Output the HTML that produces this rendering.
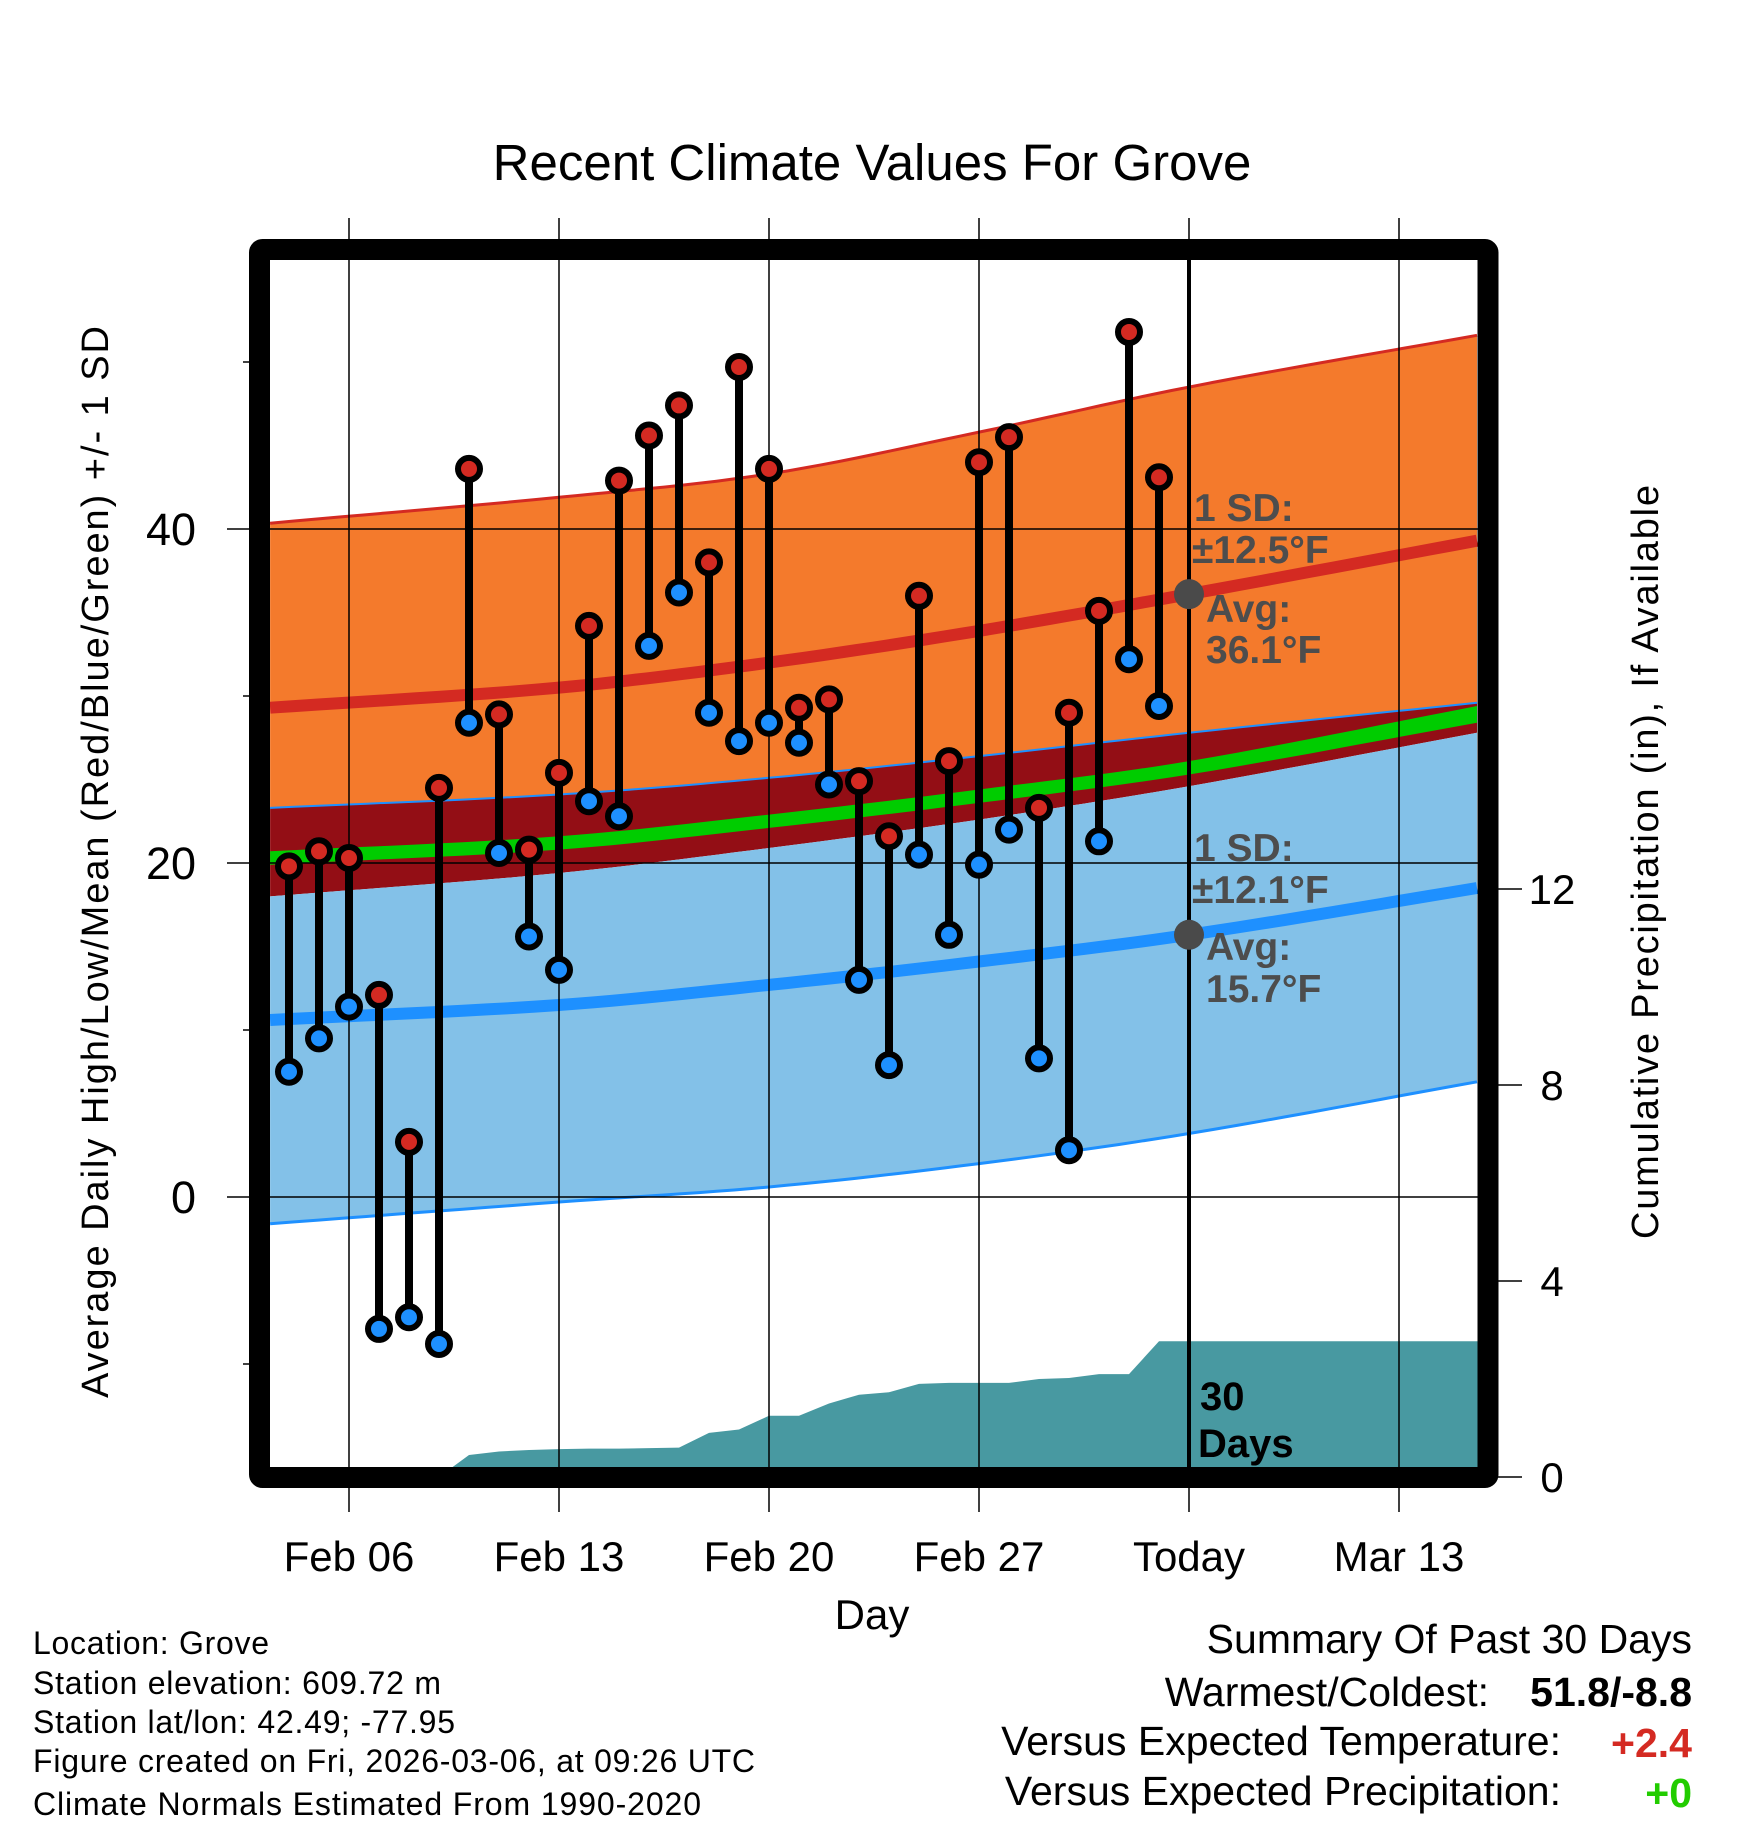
<!DOCTYPE html>
<html><head><meta charset="utf-8"><style>
html,body{margin:0;padding:0;background:#fff}
svg{display:block;font-family:"Liberation Sans",sans-serif}
</style></head><body>
<svg id="chart" width="1748" height="1828" viewBox="0 0 1748 1828" xmlns="http://www.w3.org/2000/svg">
<g id="layer"></g>
</svg>
<script>
// ---- data ----
const days = ["Feb 04","Feb 05","Feb 06","Feb 07","Feb 08","Feb 09","Feb 10","Feb 11","Feb 12","Feb 13","Feb 14","Feb 15","Feb 16","Feb 17","Feb 18","Feb 19","Feb 20","Feb 21","Feb 22","Feb 23","Feb 24","Feb 25","Feb 26","Feb 27","Feb 28","Mar 01","Mar 02","Mar 03","Mar 04","Mar 05"];
const highs = [19.8,20.7,20.3,12.1,3.3,24.5,43.6,28.9,20.8,25.4,34.2,42.9,45.6,47.4,38.0,49.7,43.6,29.3,29.8,24.9,21.6,36.0,26.1,44.0,45.5,23.3,29.0,35.1,51.8,43.1];
const lows = [7.5,9.5,11.4,-7.9,-7.2,-8.8,28.4,20.6,15.6,13.6,23.7,22.8,33.0,36.2,29.0,27.3,28.4,27.2,24.7,13.0,7.9,20.5,15.7,19.9,22.0,8.3,2.8,21.3,32.2,29.4];
const precip = [0,0,0,0,0,0,0.45,0.52,0.55,0.57,0.58,0.58,0.59,0.6,0.9,0.97,1.25,1.25,1.5,1.68,1.73,1.9,1.92,1.92,1.92,2.0,2.02,2.1,2.1,2.77];
// normals, at day offsets from Feb 06
const normDays = [-2.63,7,14,21,28,37.6];
const highPlusSD = [40.35,41.9,43.3,45.8,48.5,51.6];
const highMean = [29.3,30.5,32.0,33.9,36.1,39.3];
const highMinusSD = [23.3,24.1,25.1,26.4,27.8,29.6];
const lowPlusSD = [18.0,19.4,20.9,22.6,24.6,27.8];
const meanTop = [20.7,21.6,22.9,24.4,26.1,29.4];
const meanBot = [19.9,20.8,22.1,23.6,25.3,28.4];
const lowMean = [10.6,11.5,12.7,14.1,15.7,18.5];
const lowMinusSD = [-1.6,-0.3,0.6,2.0,3.8,6.9];
const xTickDays = [0,7,14,21,28,35];
const xTickLabels = ["Feb 06","Feb 13","Feb 20","Feb 27","Today","Mar 13"];
const yTicks = [0,20,40];
const yMinor = [-10,10,30,50];
const pTicks = [0,4,8,12];

// ---- axes ----
const L=270,R=1478,T=260,B=1468;
const X = d => 349 + d*30;
const Y = t => 529 - (t-40)*16.7;
const P = p => 1477 - p*49;
const NS="http://www.w3.org/2000/svg";
const layer=document.getElementById('layer');
function mk(tag,attrs,parent){const e=document.createElementNS(NS,tag);for(const k in attrs)e.setAttribute(k,attrs[k]);(parent||layer).appendChild(e);return e;}
function txt(s,attrs,parent){const e=mk('text',attrs,parent);e.textContent=s;return e;}

const clip=mk('clipPath',{id:'pc'});mk('rect',{x:L,y:T,width:R-L,height:B-T},clip);
const plot=mk('g',{'clip-path':'url(#pc)'});



// monotone-ish smooth interpolation (Catmull-Rom) through the normal points
function smooth(arr){
  const out=[];const n=normDays.length;
  for(let i=0;i<n-1;i++){
    const d0=normDays[Math.max(i-1,0)],d1=normDays[i],d2=normDays[i+1],d3=normDays[Math.min(i+2,n-1)];
    const v0=arr[Math.max(i-1,0)],v1=arr[i],v2=arr[i+1],v3=arr[Math.min(i+2,n-1)];
    const m1=(v2-v0)/(d2-d0)*(d2-d1), m2=(v3-v1)/(d3-d1)*(d2-d1);
    for(let k=0;k<12;k++){const t=k/12,t2=t*t,t3=t2*t;
      const v=(2*t3-3*t2+1)*v1+(t3-2*t2+t)*m1+(-2*t3+3*t2)*v2+(t3-t2)*m2;
      out.push(X(d1+(d2-d1)*t).toFixed(1)+','+Y(v).toFixed(1));}
  }
  out.push(X(normDays[n-1]).toFixed(1)+','+Y(arr[n-1]).toFixed(1));
  return out;
}
function band(top,bot,fill,name){
  const pts=smooth(top).concat(smooth(bot).reverse());
  const e=mk('polygon',{points:pts.join(' '),fill:fill},plot);
  
  
}
band(highPlusSD,highMinusSD,'#f47a2c','high-sd-band');
band(highMinusSD,lowPlusSD,'#930e15','overlap-band');
band(lowPlusSD,lowMinusSD,'#83c1e8','low-sd-band');
band(meanTop,meanBot,'#00cc00','mean-band');
function curve(arr,color,w,name){
  const e=mk('polyline',{points:smooth(arr).join(' '),fill:'none',stroke:color,'stroke-width':w},plot);
  
  
}
curve(highPlusSD,'#d42a22',3,'high-plus-sd-line');
curve(highMinusSD,'#1e90ff',2,'high-minus-sd-line');
curve(lowMinusSD,'#1e90ff',3,'low-minus-sd-line');
curve(highMean,'#d42a22',12,'high-mean-line');
curve(lowMean,'#1e90ff',12,'low-mean-line');

// precipitation area
{
  let pts=[X(-2)+','+P(0)];
  precip.forEach((p,i)=>pts.push(X(i-2)+','+P(p).toFixed(1)));
  pts.push(R+','+P(precip[precip.length-1]).toFixed(1));
  pts.push(R+','+P(0));
  const e=mk('polygon',{points:pts.join(' '),fill:'#4899a1'},plot);
  
  
}
// grid
xTickDays.forEach(d=>{const e=mk('line',{x1:X(d),x2:X(d),y1:218,y2:1512,stroke:'#000','stroke-width':1.5});
  
  });
yTicks.forEach(t=>{const e=mk('line',{x1:227,x2:R,y1:Y(t),y2:Y(t),stroke:'#000','stroke-width':1.5});
  
  });
yMinor.forEach(t=>{const e=mk('line',{x1:243,x2:L,y1:Y(t),y2:Y(t),stroke:'#000','stroke-width':1.5});
  
  });
pTicks.forEach(p=>{const e=mk('line',{x1:R,x2:1522,y1:P(p),y2:P(p),stroke:'#000','stroke-width':1.5});
  
  
  const t=txt(String(p),{x:1552,y:P(p)+15,'font-size':42,'text-anchor':'middle'});
  
  });
// today line
{const e=mk('line',{x1:X(28),x2:X(28),y1:T,y2:B,stroke:'#000','stroke-width':4});
 
 }
// stems & markers
highs.forEach((h,i)=>{
  const x=X(i-2);
  const s=mk('line',{x1:x,x2:x,y1:Y(h),y2:Y(lows[i]),stroke:'#000','stroke-width':8});
  
  
});
highs.forEach((h,i)=>{
  const x=X(i-2);
  const a=mk('circle',{cx:x,cy:Y(h),r:11,fill:'#d42a22',stroke:'#000','stroke-width':6});
  
  
  const b=mk('circle',{cx:x,cy:Y(lows[i]),r:11,fill:'#1e90ff',stroke:'#000','stroke-width':6});
  
  
});
// avg dots
[[highMean,'high-avg-dot'],[lowMean,'low-avg-dot']].forEach(([a,n])=>{
  const e=mk('circle',{cx:X(28),cy:Y(a[4]),r:15,fill:'#4a4a4a'});
  
  
});
// annotations
const ann=[["1 SD:",1194,521],["±12.5°F",1192,563],["Avg:",1206,622],["36.1°F",1206,663],
           ["1 SD:",1194,861],["±12.1°F",1192,903],["Avg:",1206,960],["15.7°F",1206,1002]];
ann.forEach(a=>{const t=txt(a[0],{x:a[1],y:a[2],'font-size':39,'font-weight':'bold',fill:'#4d4d4d'});
  
  });
[["30",1200,1410],["Days",1198,1457]].forEach(a=>{const t=txt(a[0],{x:a[1],y:a[2],'font-size':40,'font-weight':'bold',fill:'#000'});
  
  });
// frame
{const e=mk('rect',{x:259.5,y:249.5,width:1228.5,height:1228,fill:'none',stroke:'#000','stroke-width':21,rx:3});
 
 }
// tick labels
xTickDays.forEach((d,i)=>{const t=txt(xTickLabels[i],{x:X(d),y:1571,'font-size':42,'text-anchor':'middle'});
  
  });
yTicks.forEach(v=>{const t=txt(String(v),{x:196,y:Y(v)+16,'font-size':45,'text-anchor':'end'});
  
  });
</script>
<svg width="1748" height="1828" style="position:absolute;left:0;top:0" xmlns="http://www.w3.org/2000/svg">
<text x="872" y="180" font-size="51" text-anchor="middle" font-family="Liberation Sans, sans-serif">Recent Climate Values For Grove</text>
<text x="872" y="1629" font-size="42" text-anchor="middle" font-family="Liberation Sans, sans-serif">Day</text>
<text transform="translate(108,862) rotate(-90)" font-size="38" text-anchor="middle" textLength="1072" font-family="Liberation Sans, sans-serif">Average Daily High/Low/Mean (Red/Blue/Green) +/- 1 SD</text>
<text transform="translate(1658,862) rotate(-90)" font-size="38" text-anchor="middle" textLength="754" font-family="Liberation Sans, sans-serif">Cumulative Precipitation (in), If Available</text>
<g font-size="32" font-family="Liberation Sans, sans-serif">
<text x="33" y="1654" textLength="236">Location: Grove</text>
<text x="33" y="1694" textLength="408">Station elevation: 609.72 m</text>
<text x="33" y="1733" textLength="422">Station lat/lon: 42.49; -77.95</text>
<text x="33" y="1772" textLength="722">Figure created on Fri, 2026-03-06, at 09:26 UTC</text>
<text x="33" y="1815" textLength="668">Climate Normals Estimated From 1990-2020</text>
</g>
<g font-size="41" font-family="Liberation Sans, sans-serif" text-anchor="end">
<text x="1692" y="1653">Summary Of Past 30 Days</text>
<text x="1489" y="1706">Warmest/Coldest:</text>
<text x="1692" y="1706" font-weight="bold">51.8/-8.8</text>
<text x="1561" y="1755">Versus Expected Temperature:</text>
<text x="1692" y="1757" font-weight="bold" fill="#d42a22">+2.4</text>
<text x="1561" y="1805">Versus Expected Precipitation:</text>
<text x="1692" y="1807" font-weight="bold" fill="#22cc00">+0</text>
</g>
</svg>
</body></html>
